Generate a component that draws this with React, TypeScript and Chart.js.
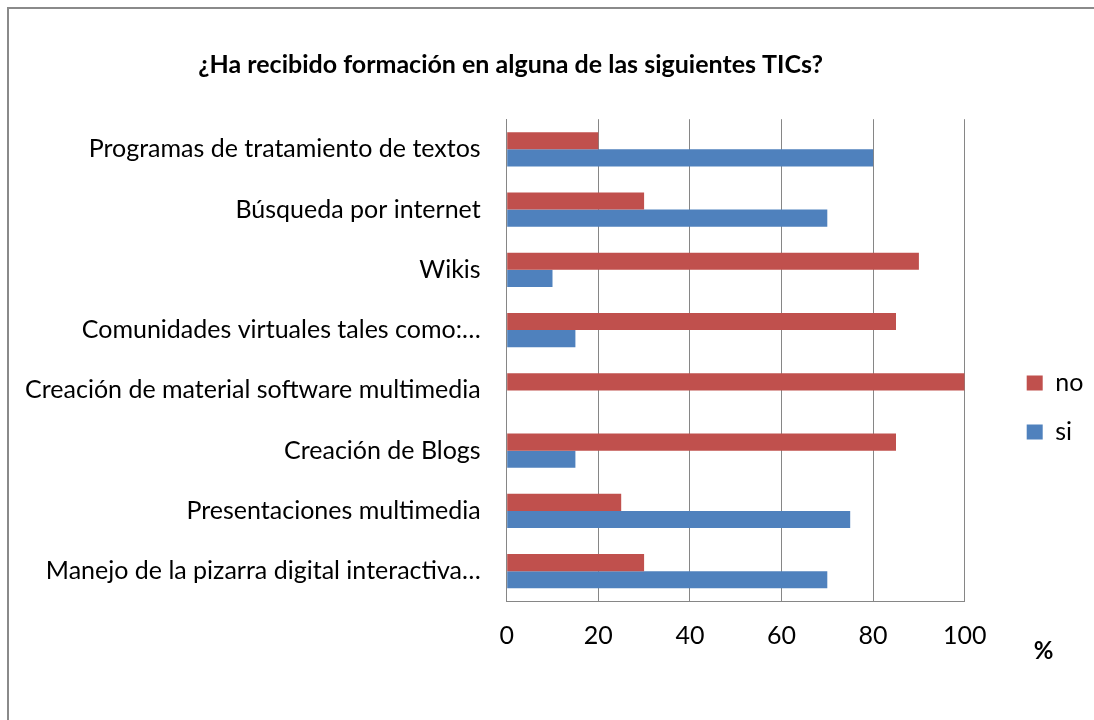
import React, { useEffect, useRef } from "react";
import { Chart, registerables } from "chart.js";

Chart.register(...registerables);

const categories = [
  "Programas de tratamiento de textos",
  "Búsqueda por internet",
  "Wikis",
  "Comunidades virtuales tales como:…",
  "Creación de material software multimedia",
  "Creación de Blogs",
  "Presentaciones multimedia",
  "Manejo de la pizarra digital interactiva…",
];
const noValues = [20, 30, 90, 85, 100, 85, 25, 30];
const siValues = [80, 70, 10, 15, 0, 15, 75, 70];
const seriesNames = ["no", "si"];
const seriesColors = ["#C0504D", "#4F81BD"];
const xMin = 0;
const xMax = 100;
const xStep = 20;
const titleText = "¿Ha recibido formación en alguna de las siguientes TICs?";
const axisUnit = "%";

const FONT = "Lato, 'Noto Sans', sans-serif";
const GRID = "#868686";

const unitPlugin = {
  id: "unitLabel",
  afterDraw(chart: any) {
    const { ctx, chartArea } = chart;
    ctx.save();
    ctx.font = `bold 24px ${FONT}`;
    ctx.fillStyle = "#000";
    ctx.textAlign = "center";
    ctx.textBaseline = "middle";
    ctx.fillText(axisUnit, chartArea.right + 79, chartArea.bottom + 50);
    ctx.restore();
  },
};

export default function App() {
  const ref = useRef<HTMLCanvasElement | null>(null);

  useEffect(() => {
    if (!ref.current) return;
    const chart = new Chart(ref.current, {
      type: "bar",
      data: {
        labels: categories,
        datasets: [
          {
            label: seriesNames[0],
            data: noValues,
            backgroundColor: seriesColors[0],
            borderWidth: 0,
            categoryPercentage: 0.57,
            barPercentage: 1,
          },
          {
            label: seriesNames[1],
            data: siValues,
            backgroundColor: seriesColors[1],
            borderWidth: 0,
            categoryPercentage: 0.57,
            barPercentage: 1,
          },
        ],
      },
      options: {
        indexAxis: "y",
        animation: false,
        responsive: true,
        maintainAspectRatio: false,
        layout: { padding: { left: -75.3, right: 6.3, top: 0, bottom: 0 } },
        scales: {
          x: {
            type: "linear",
            min: xMin,
            max: xMax,
            ticks: {
              stepSize: xStep,
              color: "#000",
              font: { family: FONT, size: 25 },
              padding: 20,
            },
            grid: { color: GRID, lineWidth: 1, drawTicks: false },
            border: { display: true, color: GRID, width: 1 },
            afterFit: (s: any) => {
              s.height = 118.7;
            },
          },
          y: {
            type: "category",
            ticks: {
              color: "#000",
              font: { family: FONT, size: 25 },
              padding: 26,
              autoSkip: false,
            },
            grid: { display: false, drawTicks: false },
            border: { display: true, color: GRID, width: 1 },
            afterFit: (s: any) => {
              s.width = 573;
            },
          },
          spacer: {
            type: "linear",
            position: "right",
            display: true,
            grid: { display: false, drawTicks: false },
            ticks: { display: false },
            border: { display: false },
            afterFit: (s: any) => {
              s.width = 38;
            },
          },
        },
        plugins: {
          title: {
            display: true,
            text: titleText,
            color: "#000",
            font: { family: FONT, size: 25, weight: "bold" },
            padding: { top: 41.3, bottom: 38.9 },
          },
          legend: {
            display: true,
            position: "right",
            align: "start",
            maxWidth: 85,
            title: {
              display: true,
              text: "",
              font: { size: 12 },
              padding: { top: 0, bottom: 323.1 },
            },
            labels: {
              color: "#000",
              font: { family: FONT, size: 25 },
              boxWidth: 16,
              boxHeight: 15,
              padding: 24,
            },
          },
          tooltip: { enabled: false },
        },
      },
      plugins: [unitPlugin],
    } as any);
    return () => chart.destroy();
  }, []);

  return (
    <div
      style={{
        position: "absolute",
        left: 7,
        top: 7,
        width: 1087,
        height: 713,
        boxSizing: "border-box",
        borderTop: "2px solid #8a8a8a",
        borderLeft: "2px solid #8a8a8a",
        overflow: "hidden",
        background: "#fff",
      }}
    >
      <div style={{ position: "relative", width: 1085, height: 711 }}>
        <canvas ref={ref} />
      </div>
    </div>
  );
}
